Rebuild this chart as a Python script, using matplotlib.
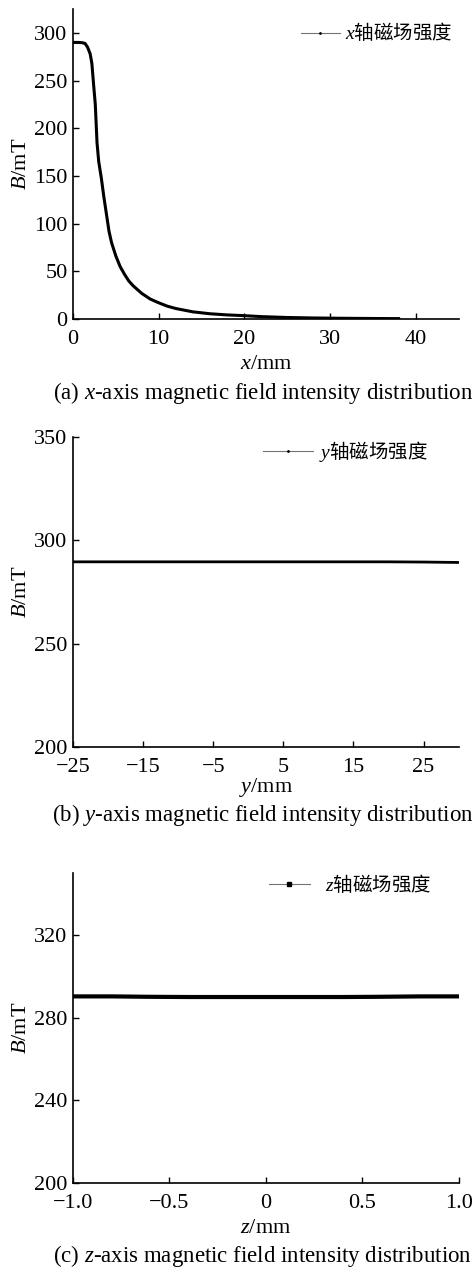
import matplotlib.pyplot as plt
from matplotlib.lines import Line2D

plt.rcParams["font.family"] = ["Liberation Serif", "Noto Sans CJK SC"]
plt.rcParams["mathtext.fontset"] = "custom"
plt.rcParams["mathtext.rm"] = "Liberation Serif"
plt.rcParams["mathtext.it"] = "Liberation Serif:italic"
plt.rcParams["axes.unicode_minus"] = True

# (a) field along x
x_pos = [0, 0.5, 1.0, 1.4, 1.7, 2.0, 2.2, 2.4, 2.6, 2.8, 3.0, 3.3, 3.6, 3.9, 4.2, 4.5,
         5.0, 5.5, 6.0, 6.5, 7.0, 8.0, 9.0, 10, 11, 12, 14, 16, 18, 20, 22, 25, 28, 31, 34, 38]
x_field = [290, 290, 289.8, 289, 285, 278, 268, 246, 225, 185, 165, 148, 128, 110, 92, 80,
           66, 55, 47, 40, 35, 27, 21, 17, 13.5, 11, 7.5, 5.5, 4.3, 3.5, 2.5, 1.6, 1.1, 0.8, 0.6, 0.4]

# (b) field along y
y_pos = [-25, -20, -15, -10, -5, 0, 5, 10, 15, 20, 25, 29.9]
y_field = [289.6, 289.6, 289.6, 289.6, 289.6, 289.6, 289.6, 289.6, 289.6, 289.6, 289.5, 289.3]

# (c) field along z
z_pos = [-1.0, -0.8, -0.6, -0.4, -0.2, 0, 0.2, 0.4, 0.58, 0.8, 1.0]
z_field = [290.3, 290.3, 290.1, 290.0, 290.0, 290.0, 290.0, 290.0, 290.1, 290.3, 290.3]

FS = 16
CAP = 16.5
fig = plt.figure(figsize=(4.76, 12.73), dpi=100)


def style_axes(ax):
    ax.spines["top"].set_visible(False)
    ax.spines["right"].set_visible(False)
    ax.tick_params(direction="in", length=4, width=1, labelsize=FS)
    ax.tick_params(axis="x", pad=8)
    ax.tick_params(axis="y", pad=4)
    for s in ("left", "bottom"):
        ax.spines[s].set_linewidth(1.2)


def add_legend(ax, label, marker, ms, anchor, hl=2.0, tp=0.3):
    h = Line2D([], [], color="0.45", lw=0.8, marker=marker, ms=ms,
               mfc="k", mec="k")
    ax.legend([h], [label], loc="upper right", bbox_to_anchor=anchor,
              frameon=False, handlelength=hl, handletextpad=tp,
              borderaxespad=0, borderpad=0,
              prop={"family": "Noto Sans CJK SC", "size": 14})


# panel a
ax1 = fig.add_axes([0.1534, 0.7494, 0.81, 0.2435])
ax1.plot(x_pos, x_field, color="k", lw=2.2)
ax1.set_xlim(0, 45)
ax1.set_ylim(0, 325)
ax1.set_xticks([0, 10, 20, 30, 40])
ax1.set_yticks([0, 50, 100, 150, 200, 250, 300])
ax1.set_xlabel("$x$/mm", fontsize=FS, labelpad=4)
ax1.set_ylabel("$B$/mT", fontsize=FS, labelpad=2)
style_axes(ax1)
add_legend(ax1, "$x$轴磁场强度", ".", 2, (0.985, 0.96))
fig.text(0.552, 1 - 393 / 1273, "(a) $x$-axis magnetic field intensity distribution",
         ha="center", va="center", fontsize=CAP)

# panel b
ax2 = fig.add_axes([0.1534, 0.4132, 0.81, 0.2435])
ax2.plot(y_pos, y_field, color="k", lw=2)
ax2.set_xlim(-25, 30)
ax2.set_ylim(200, 350)
ax2.set_xticks([-25, -15, -5, 5, 15, 25])
ax2.set_yticks([200, 250, 300, 350])
ax2.set_xlabel("$y$/mm", fontsize=FS, labelpad=-1)
ax2.set_ylabel("$B$/mT", fontsize=FS, labelpad=2)
style_axes(ax2)
add_legend(ax2, "$y$轴磁场强度", ".", 2, (0.92, 0.995), hl=2.6)
fig.text(0.552, 1 - 815 / 1273, "(b) $y$-axis magnetic field intensity distribution",
         ha="center", va="center", fontsize=CAP)

# panel c
ax3 = fig.add_axes([0.1534, 0.0707, 0.81, 0.2435])
ax3.plot(z_pos, z_field, color="k", lw=3)
ax3.set_xlim(-1.0, 1.0)
ax3.set_ylim(200, 350)
ax3.set_xticks([-1.0, -0.5, 0, 0.5, 1.0])
ax3.set_xticklabels(["\u22121.0", "\u22120.5", "0", "0.5", "1.0"])
ax3.set_yticks([200, 240, 280, 320])
ax3.set_xlabel("$z$/mm", fontsize=FS, labelpad=4)
ax3.set_ylabel("$B$/mT", fontsize=FS, labelpad=2)
style_axes(ax3)
add_legend(ax3, "$z$轴磁场强度", "s", 3.5, (0.93, 1.0), hl=2.1, tp=0.8)
fig.text(0.552, 1 - 1256 / 1273, "(c) $z$-axis magnetic field intensity distribution",
         ha="center", va="center", fontsize=CAP)

fig.savefig("out.png", dpi=100)
